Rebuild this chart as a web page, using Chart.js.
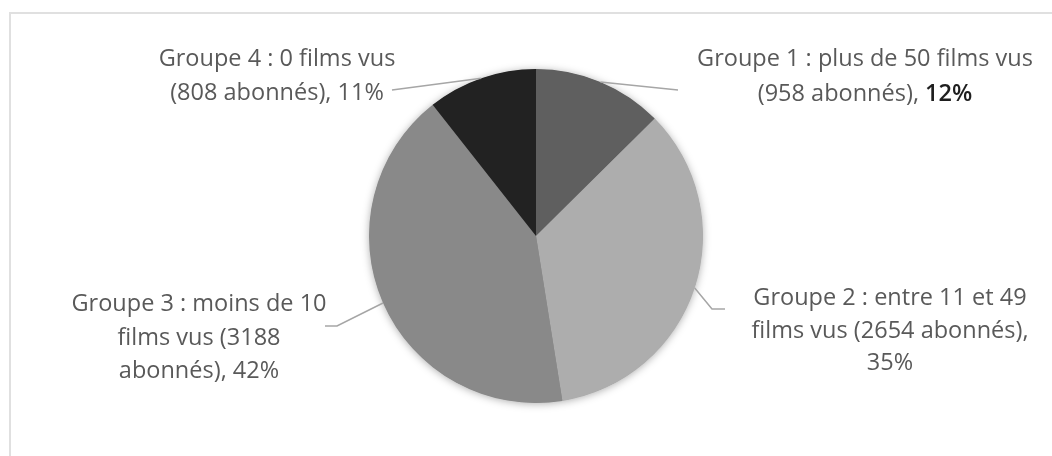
<!DOCTYPE html>
<html><head><meta charset="utf-8">
<script src="https://cdn.jsdelivr.net/npm/chart.js@4"></script>
<style>
html,body{margin:0;padding:0;background:#fff;width:1052px;height:456px;overflow:hidden}
#frame{position:absolute;left:9px;top:12px;width:1100px;height:500px;border:2px solid #e0e0e0;box-sizing:border-box}
#wrap{position:absolute;left:0;top:0;width:1052px;height:456px}
</style></head><body>
<div id="frame"></div>
<div id="wrap"><canvas id="c" width="1052" height="456"></canvas></div>
<script>
// ---- data ----
const categories = ['Groupe 1', 'Groupe 2', 'Groupe 3', 'Groupe 4'];
const subscribers = [958, 2654, 3188, 808];
const percentages = ['12%', '35%', '42%', '11%'];
const sliceColors = ['#5f5f5f', '#adadad', '#898989', '#222222'];
// label text, one array of lines per category; '%' marks where the percentage goes
const labelLines = [
  ['Groupe 1 : plus de 50 films vus', '(958 abonnés), %'],
  ['Groupe 2 : entre 11 et 49', 'films vus (2654 abonnés),', '%'],
  ['Groupe 3 : moins de 10', 'films vus (3188', 'abonnés), %'],
  ['Groupe 4 : 0 films vus', '(808 abonnés), %']
];
const boldPercent = [true, false, false, false];

// ---- label layout (positions only) ----
const labelLayout = [
  {cx: 865, ys: [59, 94], leader: [[678, 90]]},
  {cx: 890, ys: [298, 331, 363], leader: [[712, 309], [725, 309]]},
  {cx: 199, ys: [304, 338, 371], leader: [[337, 326], [325, 326]]},
  {cx: 277, ys: [59, 93], leader: [[392, 90]]}
];
const FONT = '"Open Sans", "Noto Sans", sans-serif';
const FS = 23.5;

const shadowPlugin = {
  id: 'pieShadow',
  beforeDatasetsDraw(chart) {
    const arc = chart.getDatasetMeta(0).data[0];
    if (!arc) return;
    const ctx = chart.ctx;
    ctx.save();
    ctx.shadowColor = 'rgba(0,0,0,0.35)';
    ctx.shadowBlur = 9;
    ctx.shadowOffsetX = 0;
    ctx.shadowOffsetY = 1;
    ctx.fillStyle = '#888';
    ctx.beginPath();
    ctx.arc(arc.x, arc.y, arc.outerRadius - 0.5, 0, Math.PI * 2);
    ctx.fill();
    ctx.restore();
  }
};

const labelPlugin = {
  id: 'outLabels',
  afterDatasetsDraw(chart) {
    const ctx = chart.ctx;
    const meta = chart.getDatasetMeta(0);
    ctx.save();
    if ('letterSpacing' in ctx) ctx.letterSpacing = '0.01px';
    meta.data.forEach((arc, i) => {
      const mid = (arc.startAngle + arc.endAngle) / 2;
      const sx = arc.x + Math.cos(mid) * arc.outerRadius;
      const sy = arc.y + Math.sin(mid) * arc.outerRadius;
      const L = labelLayout[i];
      ctx.strokeStyle = '#a6a6a6';
      ctx.lineWidth = 1.5;
      ctx.beginPath();
      ctx.moveTo(sx, sy);
      L.leader.forEach(p => ctx.lineTo(p[0], p[1]));
      ctx.stroke();

      ctx.textBaseline = 'middle';
      labelLines[i].forEach((line, k) => {
        const y = L.ys[k];
        const parts = line.split('%');
        if (parts.length === 1) {
          ctx.font = `${FS}px ${FONT}`;
          ctx.fillStyle = '#595959';
          ctx.textAlign = 'center';
          ctx.fillText(line, L.cx, y);
          return;
        }
        const pre = parts[0];
        const pct = percentages[i];
        ctx.font = `${FS}px ${FONT}`;
        const w1 = ctx.measureText(pre).width;
        ctx.font = `${boldPercent[i] ? '600 ' : ''}${FS}px ${FONT}`;
        const w2 = ctx.measureText(pct).width;
        let x = L.cx - (w1 + w2) / 2;
        ctx.textAlign = 'left';
        ctx.font = `${FS}px ${FONT}`;
        ctx.fillStyle = '#595959';
        ctx.fillText(pre, x, y);
        ctx.font = `${boldPercent[i] ? '600 ' : ''}${FS}px ${FONT}`;
        ctx.fillStyle = boldPercent[i] ? '#1e1e1e' : '#595959';
        ctx.fillText(pct, x + w1, y);
      });
    });
    ctx.restore();
  }
};

new Chart(document.getElementById('c'), {
  type: 'pie',
  data: {
    labels: categories,
    datasets: [{
      data: subscribers,
      backgroundColor: sliceColors,
      borderWidth: 0
    }]
  },
  options: {
    responsive: false,
    animation: false,
    devicePixelRatio: 1,
    layout: {padding: {left: 369, right: 349, top: 69, bottom: 53}},
    plugins: {legend: {display: false}, tooltip: {enabled: false}}
  },
  plugins: [shadowPlugin, labelPlugin]
});
</script>
</body></html>
